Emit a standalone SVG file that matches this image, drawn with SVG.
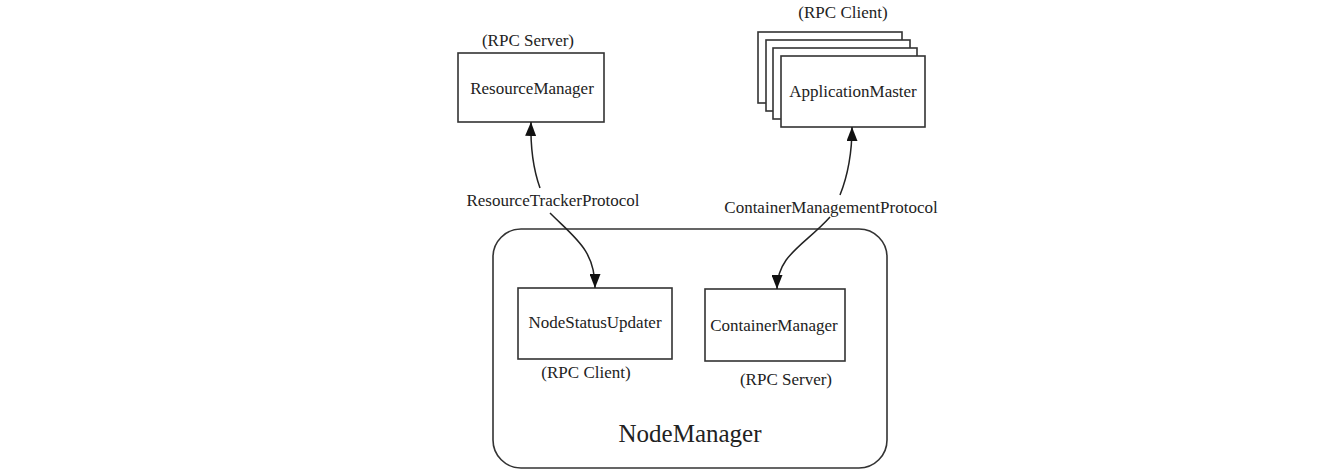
<svg xmlns="http://www.w3.org/2000/svg" width="1326" height="474" viewBox="0 0 1326 474">
<defs>
<marker id="ah" markerUnits="userSpaceOnUse" markerWidth="14" markerHeight="11" refX="14" refY="5.5" orient="auto">
<path d="M0,0 L14,5.5 L0,11 z" fill="#111"/>
</marker>
<style>
.box{fill:#fff;stroke:#333;stroke-width:1.6}
.t{font-family:"Liberation Serif","Times New Roman",serif;font-size:17px;fill:#222;text-anchor:middle}
.big{font-size:25px}
.con{fill:none;stroke:#222;stroke-width:1.5}
</style>
</defs>
<rect width="1326" height="474" fill="#fff"/>
<g id="nodemanager">
<rect class="box" x="493" y="229" width="394" height="239" rx="28" ry="28"/>
<text class="t big" x="690" y="442">NodeManager</text>
</g>
<g id="resourcemanager">
<text class="t" x="528" y="46">(RPC Server)</text>
<rect class="box" x="458" y="53" width="146" height="69"/>
<text class="t" x="532" y="94">ResourceManager</text>
</g>
<g id="applicationmaster">
<text class="t" x="843" y="18">(RPC Client)</text>
<rect class="box" x="758" y="32" width="144" height="71"/>
<rect class="box" x="766" y="40" width="144" height="71"/>
<rect class="box" x="773" y="48" width="144" height="71"/>
<rect class="box" x="781" y="56" width="144" height="71"/>
<text class="t" x="853" y="97">ApplicationMaster</text>
</g>
<g id="nodestatusupdater">
<rect class="box" x="518" y="288" width="154" height="71"/>
<text class="t" x="595" y="328">NodeStatusUpdater</text>
<text class="t" x="586" y="378">(RPC Client)</text>
</g>
<g id="containermanager">
<rect class="box" x="705" y="289" width="140" height="72"/>
<text class="t" x="774" y="331">ContainerManager</text>
<text class="t" x="786" y="385">(RPC Server)</text>
</g>
<g id="connectors">
<path class="con" d="M540,188 Q530,160 531,122" marker-end="url(#ah)"/>
<path class="con" d="M550,213 C575,238 595,250 595,288" marker-end="url(#ah)"/>
<path class="con" d="M840,195 Q852,165 852,127" marker-end="url(#ah)"/>
<path class="con" d="M830,217 C805,245 777,255 777,289" marker-end="url(#ah)"/>
<text class="t" x="553" y="206">ResourceTrackerProtocol</text>
<text class="t" x="831" y="213">ContainerManagementProtocol</text>
</g>
</svg>
